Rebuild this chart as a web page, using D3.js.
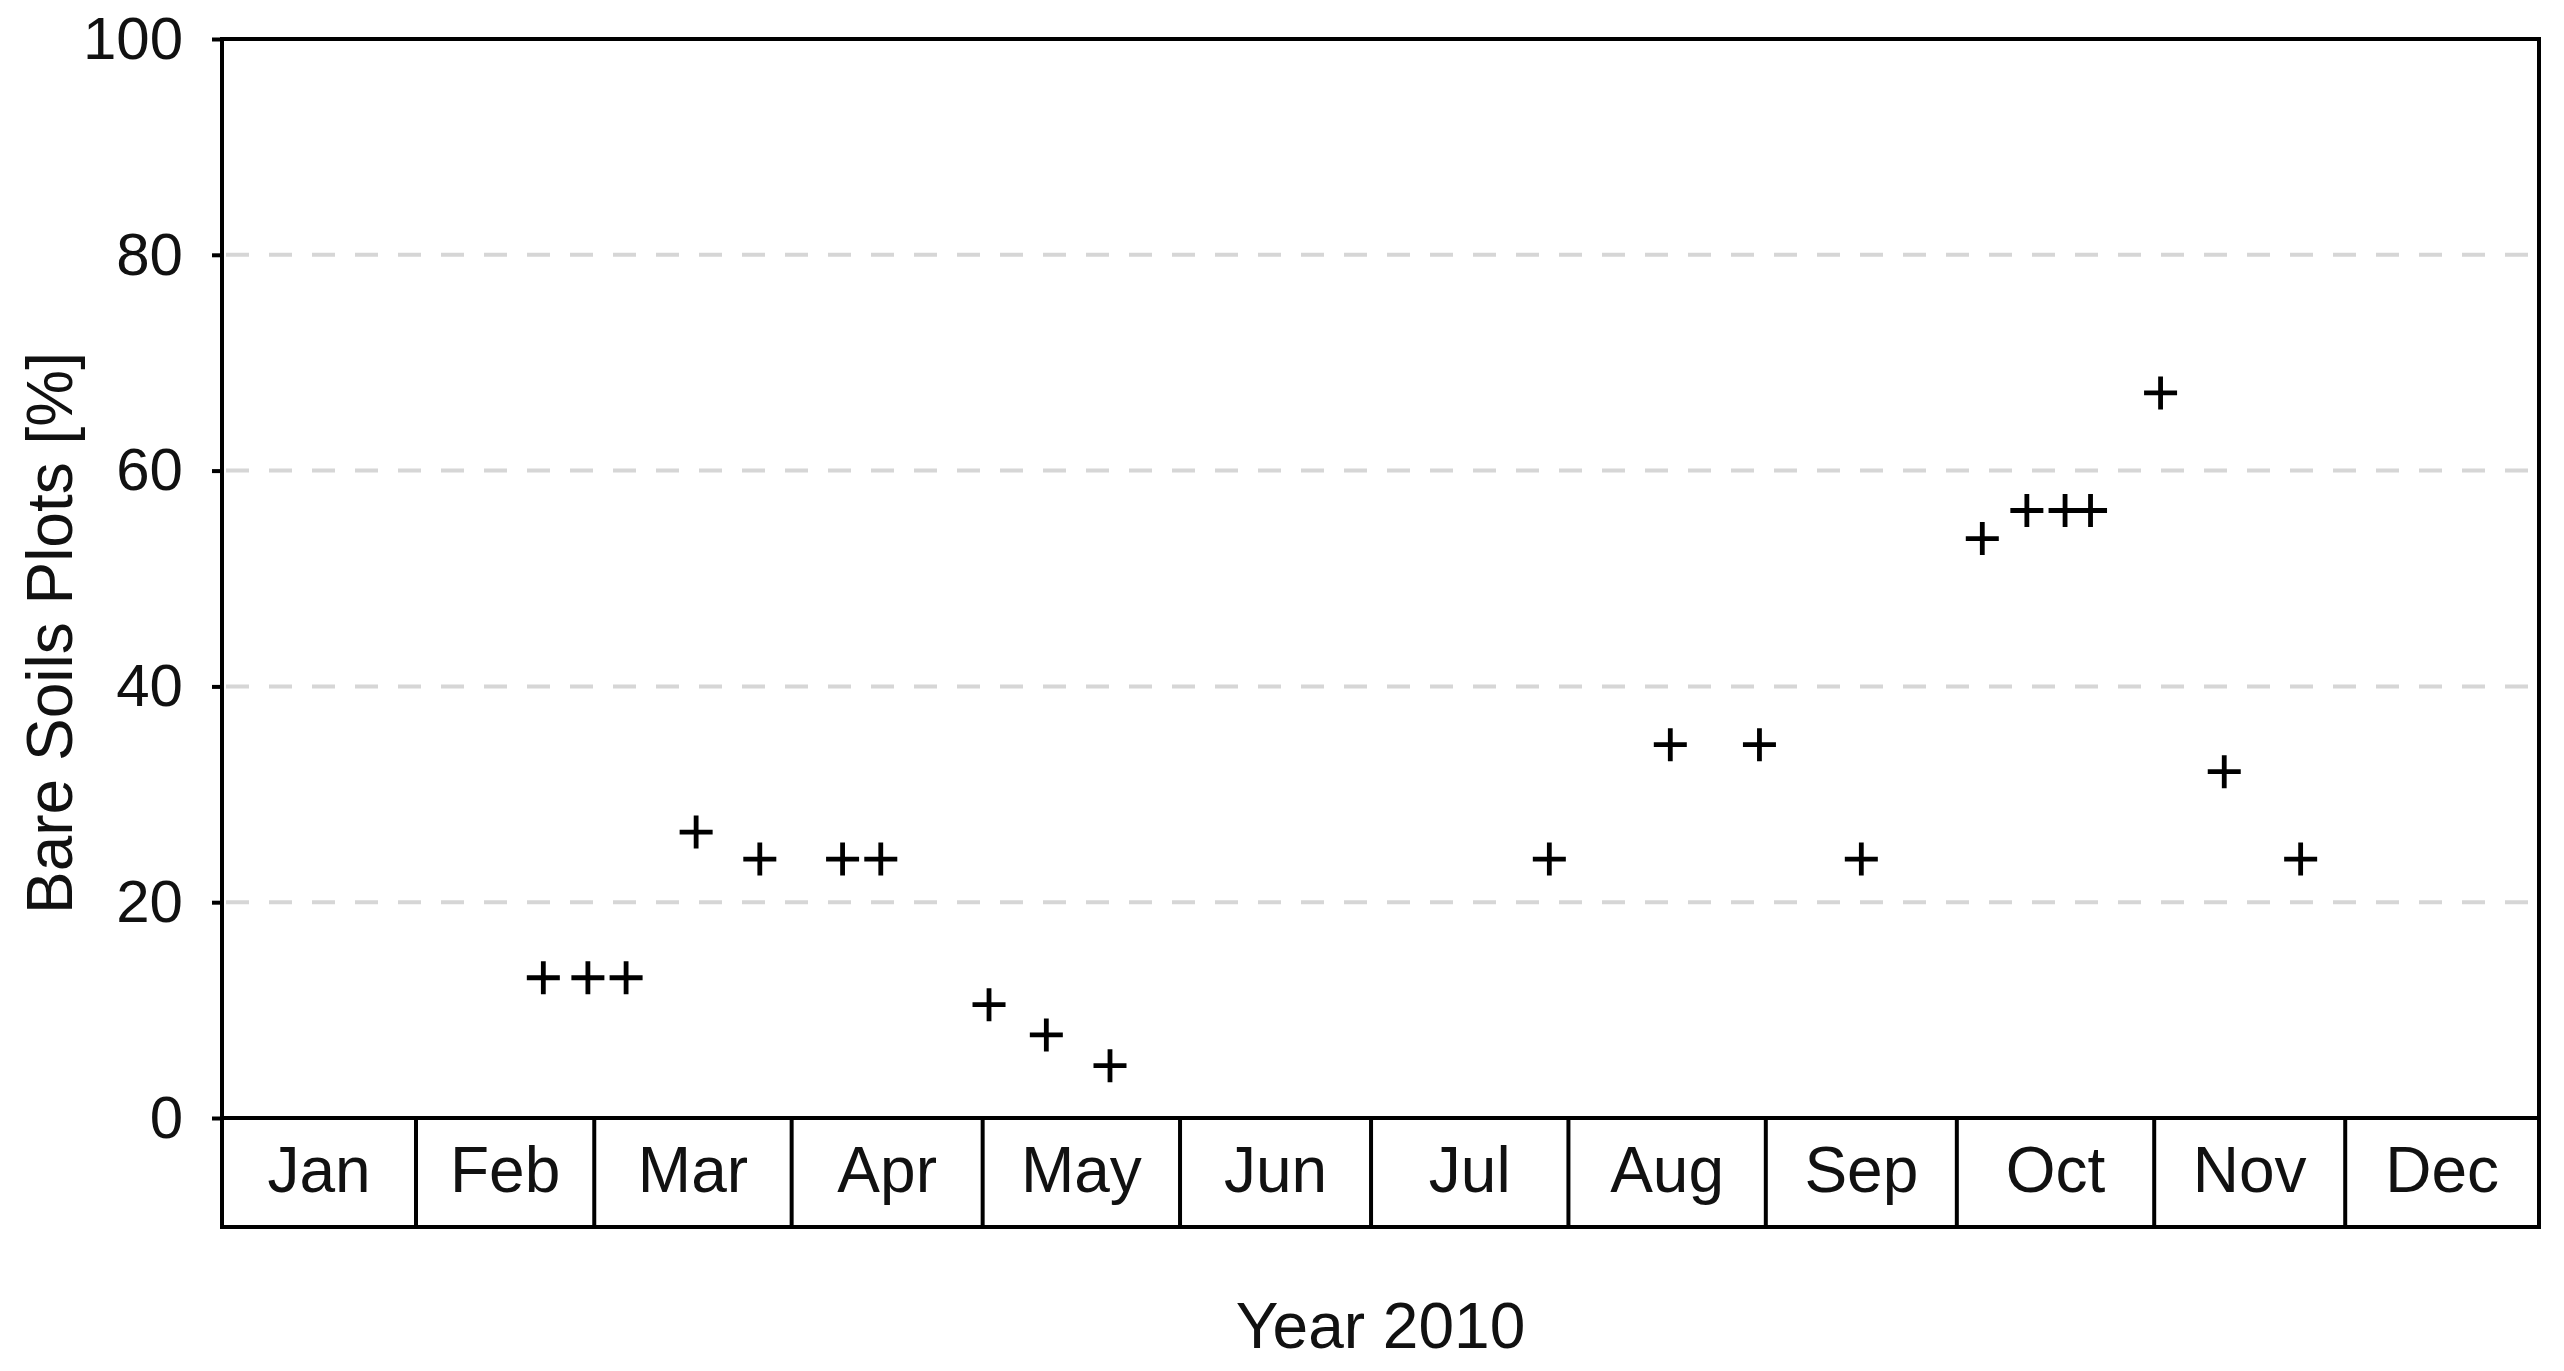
<!DOCTYPE html>
<html>
<head>
<meta charset="utf-8">
<script src="https://cdn.jsdelivr.net/npm/d3@7"></script>
<style>
  html, body { margin: 0; padding: 0; background: #fff; }
  svg { display: block; }
  text { font-family: "Liberation Sans", Arial, Helvetica, sans-serif; fill: #111; }
</style>
</head>
<body>
<svg id="chart" width="2564" height="1371"></svg>
<script>
// ---- data ----
const dates = ["2010-02-21","2010-02-28","2010-03-06","2010-03-17","2010-03-27",
               "2010-04-09","2010-04-15","2010-05-02","2010-05-11","2010-05-21",
               "2010-07-29","2010-08-17","2010-08-31","2010-09-16","2010-10-05",
               "2010-10-12","2010-10-18","2010-10-22","2010-11-02","2010-11-12",
               "2010-11-24"];
const bareSoils = [13.0, 13.0, 13.0, 26.5, 24.0,
                   24.0, 24.0, 10.5, 7.7, 4.85,
                   24.0, 34.6, 34.6, 24.0, 53.7,
                   56.3, 56.3, 56.3, 67.2, 32.1,
                   24.0];
const monthLabels = ["Jan","Feb","Mar","Apr","May","Jun","Jul","Aug","Sep","Oct","Nov","Dec"];
const yTicks = [0, 20, 40, 60, 80, 100];
const gridValues = [20, 40, 60, 80];
const yTitle = "Bare Soils Plots [%]";
const xTitle = "Year 2010";

// ---- layout ----
const M = { left: 222, right: 2539, top: 39, plotBottom: 1118, rowBottom: 1227 };

const svg = d3.select("#chart");
const parse = d3.timeParse("%Y-%m-%d");
const points = dates.map((d, i) => ({ date: parse(d), value: bareSoils[i] }));

const x = d3.scaleTime()
  .domain([new Date(2010, 0, 1), new Date(2011, 0, 1)])
  .range([218.6, 2542.6]);
const y = d3.scaleLinear().domain([0, 100]).range([M.plotBottom, M.top]);

// gridlines
svg.append("g").selectAll("line").data(gridValues).join("line")
  .attr("x1", M.left + 4).attr("x2", M.right - 2)
  .attr("y1", d => y(d)).attr("y2", d => y(d))
  .attr("stroke", "#d6d6d6").attr("stroke-width", 4)
  .attr("stroke-dasharray", "23,20");

// month boxes
const monthStarts = d3.timeMonth.range(new Date(2010, 0, 1), new Date(2011, 0, 1));
svg.append("g").selectAll("line").data(monthStarts.slice(1)).join("line")
  .attr("x1", d => x(d)).attr("x2", d => x(d))
  .attr("y1", M.plotBottom).attr("y2", M.rowBottom)
  .attr("stroke", "#000").attr("stroke-width", 4);

svg.append("g").selectAll("text").data(monthStarts).join("text")
  .attr("x", d => (Math.max(M.left, x(d)) + Math.min(M.right, x(d3.timeMonth.offset(d, 1)))) / 2)
  .attr("y", 1192)
  .attr("text-anchor", "middle")
  .attr("font-size", 64)
  .text((d, i) => monthLabels[i]);

// frame
svg.append("rect")
  .attr("x", M.left).attr("y", M.top)
  .attr("width", M.right - M.left).attr("height", M.rowBottom - M.top)
  .attr("fill", "none").attr("stroke", "#000").attr("stroke-width", 4);
svg.append("line")
  .attr("x1", M.left).attr("x2", M.right)
  .attr("y1", M.plotBottom).attr("y2", M.plotBottom)
  .attr("stroke", "#000").attr("stroke-width", 4);

// y axis
const yAxis = d3.axisLeft(y).tickValues(yTicks).tickSize(10).tickPadding(29).tickFormat(d3.format("d"));
const gy = svg.append("g").attr("transform", `translate(${M.left},0)`).call(yAxis);
gy.select(".domain").remove();
gy.selectAll(".tick line").attr("stroke", "#000").attr("stroke-width", 4);
gy.selectAll(".tick text").attr("font-size", 60).attr("fill", "#111")
  .attr("font-family", '"Liberation Sans", Arial, sans-serif');

// markers
svg.append("g").selectAll("path").data(points).join("path")
  .attr("transform", d => `translate(${x(d.date)},${y(d.value)})`)
  .attr("d", "M-16.5,0H16.5M0,-16.5V16.5")
  .attr("stroke", "#000").attr("stroke-width", 4.8).attr("fill", "none");

// titles
svg.append("text")
  .attr("transform", `translate(72,633) rotate(-90)`)
  .attr("text-anchor", "middle")
  .attr("font-size", 64)
  .text(yTitle);

svg.append("text")
  .attr("x", (M.left + M.right) / 2).attr("y", 1348)
  .attr("text-anchor", "middle")
  .attr("font-size", 64)
  .text(xTitle);
</script>
</body>
</html>
